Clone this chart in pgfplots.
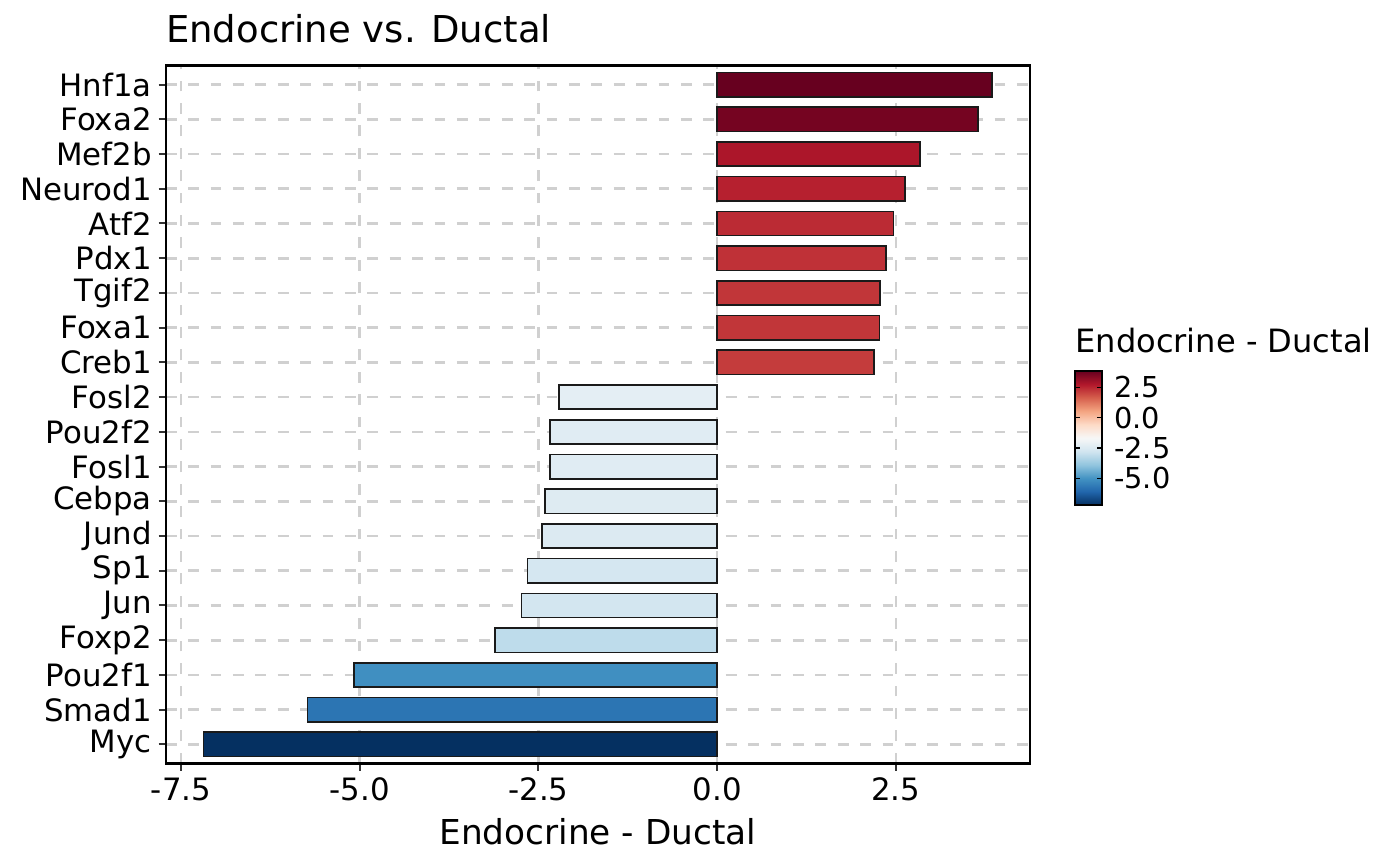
\documentclass[border=0pt]{standalone}
\usepackage{pgfplots}
\pgfplotsset{compat=1.18}
\usepackage{fontspec}
\setmainfont{DejaVu Sans}
\definecolor{gridc}{RGB}{208,208,208}
\definecolor{tickc}{RGB}{51,51,51}
\definecolor{barline}{RGB}{26,26,26}
\definecolor{cMyc}{RGB}{5,48,97}
\definecolor{cSmad}{RGB}{44,117,179}
\definecolor{cPoufa}{RGB}{64,143,193}
\definecolor{cFoxp}{RGB}{190,220,235}
\definecolor{cJun}{RGB}{211,230,240}
\definecolor{cSp}{RGB}{213,231,241}
\definecolor{cJund}{RGB}{220,234,242}
\definecolor{cCebpa}{RGB}{222,235,242}
\definecolor{cFosla}{RGB}{224,236,243}
\definecolor{cPoufb}{RGB}{224,236,243}
\definecolor{cFoslb}{RGB}{228,238,244}
\definecolor{cCreb}{RGB}{196,60,60}
\definecolor{cFoxaa}{RGB}{193,54,57}
\definecolor{cTgif}{RGB}{193,54,57}
\definecolor{cPdx}{RGB}{191,49,55}
\definecolor{cAtf}{RGB}{187,43,52}
\definecolor{cNeurod}{RGB}{182,32,47}
\definecolor{cMef}{RGB}{172,22,42}
\definecolor{cFoxab}{RGB}{117,4,33}
\definecolor{cHnf}{RGB}{103,0,31}
\pgfplotsset{colormap={RdBu}{rgb255=(5,48,97) rgb255=(33,102,172) rgb255=(67,147,195) rgb255=(146,197,222) rgb255=(209,229,240) rgb255=(247,247,247) rgb255=(253,219,199) rgb255=(244,165,130) rgb255=(214,96,77) rgb255=(178,24,43) rgb255=(103,0,31)}}
\newcommand{\fs}[1]{\fontsize{#1}{#1}\selectfont}
\pgfplotsset{hb/.style={xbar, bar shift=0pt, bar width=0.7, draw=barline, line width=0.8pt, fill=#1}}
\begin{document}
\begin{tikzpicture}
\path[use as bounding box] (0,0) rectangle (700pt,433pt);
\begin{axis}[
  at={(82.85pt,51.25pt)}, anchor=south west,
  scale only axis, width=432.15pt, height=349pt,
  xmin=-7.713, xmax=4.376, ymin=-0.55, ymax=19.55,
  /pgf/number format/assume math mode=true,
  xtick={-7.5,-5,-2.5,0,2.5},
  xticklabels={-7.5,-5.0,-2.5,0.0,2.5},
  ytick={0,...,19},
  yticklabels={Myc,Smad1,Pou2f1,Foxp2,Jun,Sp1,Jund,Cebpa,Fosl1,Pou2f2,Fosl2,Creb1,Foxa1,Tgif2,Pdx1,Atf2,Neurod1,Mef2b,Foxa2,Hnf1a},
  xtick pos=left, ytick pos=left,
  tick align=outside, major tick length=3.5pt,
  tick style={color=tickc, line width=1pt},
  xticklabel style={font=\fs{15.4}},
  yticklabel style={font=\fs{15.4}},
  axis line style={black, line width=1.2pt},
  xmajorgrids, ymajorgrids,
  grid style={color=gridc, line width=1.35pt, dash pattern=on 5.4pt off 5.8pt},
  title={Endocrine vs. Ductal},
  title style={at={(axis description cs:0,1)}, anchor=base west, yshift=5.6pt, font=\fs{18.5}, inner sep=0pt},
  xlabel={Endocrine - Ductal},
  xlabel style={at={(axis description cs:0.5,0)}, anchor=base, yshift=-40.3pt, font=\fs{17.15}, inner sep=0pt},
  colorbar,
  colormap name=RdBu,
  point meta min=-7.186, point meta max=3.844,
  colorbar style={
    at={(parent axis.north east)}, anchor=north west,
    xshift=13.96pt, yshift=-152.75pt,
    scale only axis, width=13.6pt, height=67pt,
    xmajorgrids=false, ymajorgrids=false,
    ytick={-5,-2.5,0,2.5}, yticklabels={-5.0,-2.5,0.0,2.5},
    yticklabel style={font=\fs{14.4}, xshift=2.5pt},
    tick align=inside, major tick length=2.6pt,
    ytick pos=both, yticklabel pos=right,
    tick style={black, line width=0.6pt},
    axis line style={black, line width=1.1pt},
    title={Endocrine - Ductal},
    title style={at={(axis description cs:0,1)}, anchor=base west, yshift=3.15pt, font=\fs{16.05}, inner sep=0pt},
  },
]
\addplot[hb=cMyc] coordinates {(-7.186,0)};
\addplot[hb=cSmad] coordinates {(-5.732,1)};
\addplot[hb=cPoufa] coordinates {(-5.079,2)};
\addplot[hb=cFoxp] coordinates {(-3.111,3)};
\addplot[hb=cJun] coordinates {(-2.739,4)};
\addplot[hb=cSp] coordinates {(-2.650,5)};
\addplot[hb=cJund] coordinates {(-2.446,6)};
\addplot[hb=cCebpa] coordinates {(-2.408,7)};
\addplot[hb=cFosla] coordinates {(-2.342,8)};
\addplot[hb=cPoufb] coordinates {(-2.334,9)};
\addplot[hb=cFoslb] coordinates {(-2.208,10)};
\addplot[hb=cCreb] coordinates {(2.198,11)};
\addplot[hb=cFoxaa] coordinates {(2.273,12)};
\addplot[hb=cTgif] coordinates {(2.278,13)};
\addplot[hb=cPdx] coordinates {(2.366,14)};
\addplot[hb=cAtf] coordinates {(2.464,15)};
\addplot[hb=cNeurod] coordinates {(2.631,16)};
\addplot[hb=cMef] coordinates {(2.837,17)};
\addplot[hb=cFoxab] coordinates {(3.652,18)};
\addplot[hb=cHnf] coordinates {(3.844,19)};
\end{axis}
\end{tikzpicture}
\end{document}
